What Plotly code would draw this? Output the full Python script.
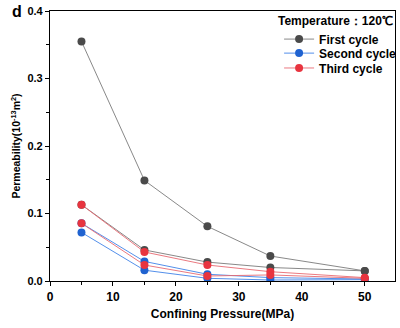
import plotly.graph_objects as go

pressure = [5, 15, 25, 35, 50]

first_a = [0.355, 0.149, 0.081, 0.037, 0.015]
first_b = [0.113, 0.046, 0.028, 0.020, 0.015]
second_a = [0.0855, 0.029, 0.010, 0.005, 0.003]
second_b = [0.072, 0.016, 0.004, 0.0015, 0.002]
third_a = [0.113, 0.043, 0.0237, 0.0138, 0.005]
third_b = [0.0855, 0.0237, 0.0074, 0.009, 0.004]

series = [
    ("First cycle", first_a, "#4a4a4a", "#7a7a7a", "legend"),
    ("First cycle", first_b, "#4a4a4a", "#7a7a7a", None),
    ("Second cycle", second_a, "#1f62d0", "#3f82e8", "legend2"),
    ("Second cycle", second_b, "#1f62d0", "#3f82e8", None),
    ("Third cycle", third_a, "#e8343f", "#e86a72", "legend3"),
    ("Third cycle", third_b, "#e8343f", "#e86a72", None),
]

FONT = "Liberation Sans, Arial, sans-serif"

fig = go.Figure()
for name, vals, mcol, lcol, leg in series:
    fig.add_trace(go.Scatter(
        x=pressure, y=vals, name=name, mode="lines+markers",
        legendgroup=name, showlegend=leg is not None,
        legend=leg if leg else "legend",
        line=dict(color=lcol, width=0.9),
        marker=dict(color=mcol, size=8),
    ))

axis_common = dict(
    showline=True, linecolor="black", linewidth=1.2, mirror=True,
    ticks="outside", ticklen=4, tickwidth=1, tickcolor="black",
    showgrid=False, zeroline=False,
)

leg_font = dict(family=FONT, size=12, color="black", weight="bold")
def leg(y):
    return dict(x=0.664, y=y, xanchor="left", yanchor="middle",
                bgcolor="rgba(0,0,0,0)", itemwidth=30, font=leg_font)

fig.update_layout(
    width=400, height=328,
    margin=dict(l=50, r=5, t=11, b=47, autoexpand=False),
    paper_bgcolor="white", plot_bgcolor="white",
    font=dict(family=FONT, color="black"),
    xaxis=dict(range=[0, 54.8], dtick=10, tick0=0,
               minor=dict(dtick=5, ticks="outside", ticklen=2.5, tickcolor="black"),
               tickfont=dict(family=FONT, size=12, color="black", weight="bold"),
               title=dict(text="Confining Pressure(MPa)", standoff=7,
                          font=dict(family=FONT, size=12, color="black", weight="bold")),
               **axis_common),
    yaxis=dict(range=[0, 0.4], dtick=0.1, tick0=0, tickformat=".1f",
               minor=dict(dtick=0.05, ticks="outside", ticklen=2.5, tickcolor="black"),
               tickfont=dict(family=FONT, size=11, color="black", weight="bold"),
               title=dict(text="Permeability(10<sup>-13</sup>m<sup>2</sup>)", standoff=4,
                          font=dict(family=FONT, size=10.5, color="black", weight="bold")),
               **axis_common),
    legend=leg(0.896),
    legend2=leg(0.844),
    legend3=leg(0.789),
    annotations=[
        dict(text="Temperature：120℃", x=1.0, y=1.0, xref="paper", yref="paper",
             xanchor="right", yanchor="top", yshift=-1, showarrow=False,
             font=dict(family=FONT, size=12, color="black", weight="bold")),
        dict(text="d", x=-0.095, y=1.0, xref="paper", yref="paper",
             xanchor="center", yanchor="middle", showarrow=False,
             font=dict(family=FONT, size=16, color="black", weight="bold")),
    ],
)

fig.write_html("out.html")
